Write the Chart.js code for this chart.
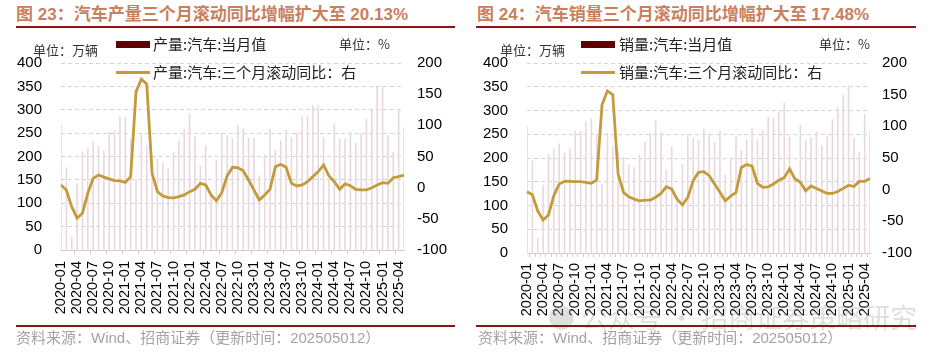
<!DOCTYPE html>
<html><head><meta charset="utf-8">
<script src="https://cdn.jsdelivr.net/npm/chart.js@4/dist/chart.umd.min.js"></script>
<style>
html,body{margin:0;padding:0;background:#fff;}
body{width:938px;height:355px;overflow:hidden;position:relative;font-family:"Liberation Sans",Arial,"Noto Sans CJK SC",sans-serif;}
.abs{position:absolute;white-space:nowrap;}
.title{font-weight:bold;font-size:17px;color:#c8805f;line-height:20px;}
.rule{position:absolute;height:2px;background:#8b1414;}
.unit{font-size:13px;color:#333;line-height:16px;font-family:"Noto Sans CJK SC",sans-serif;}
.leg{font-size:15px;color:#222;line-height:18px;font-family:"Noto Sans CJK SC",sans-serif;}
.src{font-size:15px;color:#a3a3a3;line-height:18px;}
.box{position:absolute;height:7px;width:34px;background:#5e0000;}
.lline{position:absolute;height:3px;width:34px;background:#c39a3c;}
.wm{font-size:27px;color:rgba(150,150,150,0.3);font-family:"Noto Sans CJK SC",sans-serif;line-height:30px;}
canvas{position:absolute;top:0;}
</style></head>
<body>
<div class="abs title" style="left:16px;top:5px;">图 23：汽车产量三个月滚动同比增幅扩大至 20.13%</div>
<div class="rule" style="left:16px;top:25.5px;width:439px;"></div>
<div class="abs title" style="left:477px;top:5px;">图 24：汽车销量三个月滚动同比增幅扩大至 17.48%</div>
<div class="rule" style="left:476px;top:25.5px;width:440px;"></div>

<canvas id="c1" width="469" height="330" style="left:0px;"></canvas>
<canvas id="c2" width="469" height="330" style="left:469px;"></canvas>

<div class="abs unit" style="left:33px;top:42px;">单位：万辆</div>
<div class="box" style="left:116px;top:40.5px;"></div>
<div class="abs leg" style="left:153px;top:35px;">产量:汽车:当月值</div>
<div class="abs unit" style="left:339px;top:36px;">单位：%</div>
<div class="lline" style="left:116px;top:70.5px;"></div>
<div class="abs leg" style="left:153px;top:63px;">产量:汽车:三个月滚动同比：右</div>

<div class="abs unit" style="left:500px;top:42px;">单位：万辆</div>
<div class="box" style="left:581px;top:40.5px;"></div>
<div class="abs leg" style="left:619px;top:35px;">销量:汽车:当月值</div>
<div class="abs unit" style="left:819px;top:36px;">单位：%</div>
<div class="lline" style="left:581px;top:70.5px;"></div>
<div class="abs leg" style="left:619px;top:63px;">销量:汽车:三个月滚动同比：右</div>

<div class="abs wm" style="left:548px;top:302px;">● 公众号 · 招商证券策略研究</div>

<div class="rule" style="left:16px;top:325px;width:439px;"></div>
<div class="rule" style="left:476px;top:325px;width:440px;"></div>
<div class="abs src" style="left:16px;top:329px;">资料来源：Wind、招商证券（更新时间：202505012）</div>
<div class="abs src" style="left:478px;top:329px;">资料来源：Wind、招商证券（更新时间：202505012）</div>

<script>
// ---- data ----
const months = ['2020-01','2020-02','2020-03','2020-04','2020-05','2020-06','2020-07','2020-08','2020-09','2020-10','2020-11','2020-12',
'2021-01','2021-02','2021-03','2021-04','2021-05','2021-06','2021-07','2021-08','2021-09','2021-10','2021-11','2021-12',
'2022-01','2022-02','2022-03','2022-04','2022-05','2022-06','2022-07','2022-08','2022-09','2022-10','2022-11','2022-12',
'2023-01','2023-02','2023-03','2023-04','2023-05','2023-06','2023-07','2023-08','2023-09','2023-10','2023-11','2023-12',
'2024-01','2024-02','2024-03','2024-04','2024-05','2024-06','2024-07','2024-08','2024-09','2024-10','2024-11','2024-12',
'2025-01','2025-02','2025-03','2025-04','2025-05'];

// 产量:汽车:当月值 (万辆)
const prodMonthly = [267,176,28.5,142,210,218,232,221,212,252,255,285,
284,238,150,246,223,199,194,186,173,208,233,258,
291,242,181,222,120,193,250,245,238,267,259,239,
239,159,203,258,213,233,256,240,251,285,286,309,
308,241,151,269,237,237,251,229,249,280,300,348,
349,245,210,301,262];
// 产量:汽车:三个月滚动同比 (%)
const prodYoY = [4.3,-3.7,-30.5,-49,-41,-9,15,20.4,17,14,11.3,11,
8.6,17.7,154,174,166,23,-6.4,-13.4,-16,-16.5,-14.4,-11.7,
-6.4,-2.6,7,4.3,-11.7,-21,-8,18.8,32.7,32,27,12.3,
-3.7,-19.7,-11.7,-2.6,33.7,37.5,32.7,7,2.7,4.3,9.6,17.7,
25.7,36.4,18.8,9.6,-2.6,6,3.2,-2.6,-3.7,-3.7,0,4.3,
8,7,16,17.7,20.13];

// 销量:汽车:当月值 (万辆)
const salesMonthly = [266,194,31,143,207,219,230,211,219,257,257,277,
283,250,146,253,225,213,202,186,180,207,233,252,
279,253,174,223,118,186,250,242,238,261,251,233,
256,165,198,245,216,238,262,239,258,286,285,297,
316,244,158,269,236,242,255,226,245,281,305,332,
352,242,213,292,259];
// 销量:汽车:三个月滚动同比 (%)
const salesYoY = [-3.3,-8,-33.5,-48,-40,-9.6,9,13.2,13.2,12.6,12.6,11.5,
10,15.4,134,156,150,25,-4.3,-11.2,-14.9,-17.6,-16.5,-16.5,
-12,-6,4.7,1,-14.9,-24,-12.3,14,27.5,28.5,22,9,
-4,-17.6,-10,-4.3,35,39.7,37,10,3.6,4.5,9,15,
19,33,17,11.6,-1.7,6,2,-2,-6,-6,-3,2,
7,5,13,13,17.48];

const leftTicks = {min:0, max:400, step:50};
const rightTicks = {min:-100, max:200, step:50};

// ---- styles ----
const BAR_COLOR = '#ead9dc';
const LINE_COLOR = '#c39a3c';
const GRID_COLOR = '#d4d4d4';
const AXIS_COLOR = '#cfcfcf';

function makeChart(id, bars, line, barLabel, lineLabel, geo) {
  const ctx = document.getElementById(id).getContext('2d');
  return new Chart(ctx, {
    type: 'bar',
    data: {
      labels: months,
      datasets: [
        {type:'line', label: lineLabel, data: line, yAxisID:'y1', borderColor: LINE_COLOR,
         backgroundColor: LINE_COLOR, borderWidth: 2.8, pointRadius: 0, tension: 0, order: 0},
        {type:'bar', label: barLabel, data: bars, yAxisID:'y', backgroundColor: BAR_COLOR,
         barThickness: 1, order: 1}
      ]
    },
    options: {
      responsive: false,
      animation: false,
      devicePixelRatio: 1,
      layout: {padding: {top: geo.top, left: 0, right: 0, bottom: 0}},
      plugins: {legend: {display: false}, tooltip: {enabled: false}},
      scales: {
        x: {
          type: 'category',
          offset: false,
          afterFit: s => { s.height = geo.xh; },
          grid: {
            drawOnChartArea: false, drawTicks: true, tickLength: 4,
            color: c => (c.index % geo.tickEvery === 0 ? AXIS_COLOR : 'rgba(0,0,0,0)'),
            tickColor: c => (c.index % geo.tickEvery === 0 ? AXIS_COLOR : 'rgba(0,0,0,0)')
          },
          border: {display: true, color: AXIS_COLOR, width: 1},
          ticks: {
            autoSkip: false, maxRotation: 90, minRotation: 90, padding: geo.xpad,
            color: '#000', font: {family: '"Liberation Sans", Arial', size: 14.5},
            callback: function(v, i) { return i % 3 === 0 ? this.getLabelForValue(v) : ''; }
          }
        },
        y: {
          position: 'left', min: leftTicks.min, max: leftTicks.max,
          afterFit: s => { s.width = geo.lw; },
          grid: {color: GRID_COLOR, drawTicks: false, lineWidth: 1},
          border: {display: false, dash: [4, 3]},
          ticks: {stepSize: leftTicks.step, padding: 19, color: '#000',
                  font: {family: '"Liberation Sans", Arial', size: 15}}
        },
        y1: {
          position: 'right', min: rightTicks.min, max: rightTicks.max,
          afterFit: s => { s.width = geo.rw; },
          grid: {drawOnChartArea: false, drawTicks: false},
          border: {display: false},
          ticks: {stepSize: rightTicks.step, padding: geo.rpad, color: '#000',
                  font: {family: '"Liberation Sans", Arial', size: 15}}
        }
      }
    }
  });
}

makeChart('c1', prodMonthly, prodYoY, '产量:汽车:当月值', '产量:汽车:三个月滚动同比：右',
  {top: 63, xh: 80, lw: 61, rw: 65, xpad: 7, rpad: 13, tickEvery: 3});
makeChart('c2', salesMonthly, salesYoY, '销量:汽车:当月值', '销量:汽车:三个月滚动同比：右',
  {top: 63, xh: 77, lw: 58, rw: 68, xpad: 6, rpad: 12, tickEvery: 1});
</script>
</body></html>
